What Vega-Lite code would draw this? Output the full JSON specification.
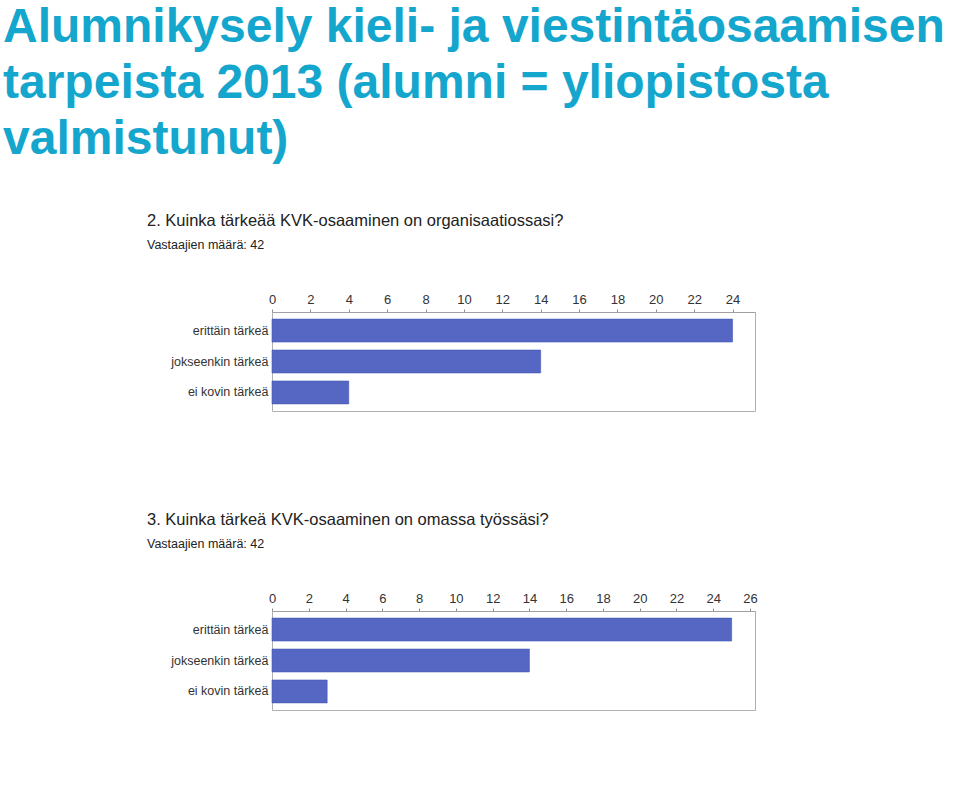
{
  "$schema": "https://vega.github.io/schema/vega-lite/v6.json",
  "background": "white",
  "padding": {"left": 3, "top": 3, "right": 5, "bottom": 5},
  "title": {
    "text": ["Alumnikysely kieli- ja viestintäosaamisen", "tarpeista 2013 (alumni = yliopistosta", "valmistunut)"],
    "anchor": "start",
    "frame": "group",
    "dx": -269,
    "font": "Liberation Sans",
    "fontWeight": "bold",
    "fontSize": 48,
    "lineHeight": 56,
    "color": "#14a6cd",
    "offset": 49
  },
  "datasets": {
    "org": [
      {"vastaus": "erittäin tärkeä", "maara": 24},
      {"vastaus": "jokseenkin tärkeä", "maara": 14},
      {"vastaus": "ei kovin tärkeä", "maara": 4}
    ],
    "oma": [
      {"vastaus": "erittäin tärkeä", "maara": 25},
      {"vastaus": "jokseenkin tärkeä", "maara": 14},
      {"vastaus": "ei kovin tärkeä", "maara": 3}
    ]
  },
  "spacing": 99,
  "vconcat": [
    {
      "data": {"name": "org"},
      "title": {
        "text": "2. Kuinka tärkeää KVK-osaaminen on organisaatiossasi?",
        "subtitle": "Vastaajien määrä: 42"
      },
      "width": 483,
      "height": 99,
      "mark": {"type": "bar", "color": "#5567c2", "stroke": "#4558b3", "strokeWidth": 0.6},
      "encoding": {
        "y": {
          "field": "vastaus", "type": "nominal", "sort": null,
          "scale": {"paddingInner": 0.26, "paddingOuter": 0.23},
          "axis": {"title": null}
        },
        "x": {
          "field": "maara", "type": "quantitative",
          "scale": {"domain": [0, 25.17], "nice": false},
          "axis": {"title": null, "orient": "top", "values": [0, 2, 4, 6, 8, 10, 12, 14, 16, 18, 20, 22, 24]}
        }
      }
    },
    {
      "data": {"name": "oma"},
      "title": {
        "text": "3. Kuinka tärkeä KVK-osaaminen on omassa työssäsi?",
        "subtitle": "Vastaajien määrä: 42"
      },
      "width": 483,
      "height": 99,
      "mark": {"type": "bar", "color": "#5567c2", "stroke": "#4558b3", "strokeWidth": 0.6},
      "encoding": {
        "y": {
          "field": "vastaus", "type": "nominal", "sort": null,
          "scale": {"paddingInner": 0.26, "paddingOuter": 0.23},
          "axis": {"title": null}
        },
        "x": {
          "field": "maara", "type": "quantitative",
          "scale": {"domain": [0, 26.27], "nice": false},
          "axis": {"title": null, "orient": "top", "values": [0, 2, 4, 6, 8, 10, 12, 14, 16, 18, 20, 22, 24, 26]}
        }
      }
    }
  ],
  "config": {
    "font": "Liberation Sans",
    "view": {"stroke": "#b0b0b0", "strokeWidth": 1},
    "title": {
      "anchor": "start",
      "frame": "group",
      "dx": -125,
      "font": "Liberation Sans",
      "fontSize": 16.5,
      "fontWeight": "normal",
      "color": "#222222",
      "subtitleFont": "Liberation Sans",
      "subtitleFontSize": 12.5,
      "subtitleColor": "#222222",
      "subtitlePadding": 9,
      "offset": 42
    },
    "axis": {
      "grid": false,
      "labelFont": "Liberation Sans",
      "labelFontSize": 12.5,
      "labelColor": "#333333",
      "domainColor": "#a0a0a0",
      "tickColor": "#909090"
    },
    "axisX": {"tickSize": 3, "labelPadding": 3, "labelFontSize": 13, "labelFlush": false},
    "axisY": {"ticks": false, "domain": false, "labelPadding": 4}
  }
}
